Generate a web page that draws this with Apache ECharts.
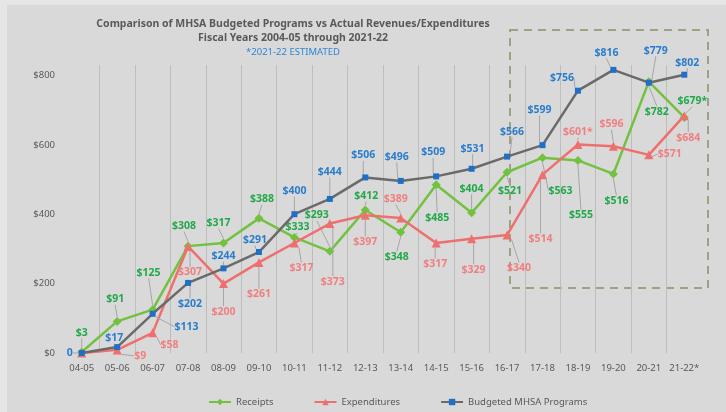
<!DOCTYPE html>
<html>
<head>
<meta charset="utf-8">
<script src="https://cdn.jsdelivr.net/npm/echarts@6/dist/echarts.min.js"></script>
<style>
  html, body { margin: 0; padding: 0; background: #e6e6e6; }
  #chart { width: 726px; height: 412px; }
</style>
</head>
<body>
<div id="chart"></div>
<script>
// Fiscal years on the category axis
const fiscalYears = ['04-05','05-06','06-07','07-08','08-09','09-10','10-11','11-12','12-13',
  '13-14','14-15','15-16','16-17','17-18','18-19','19-20','20-21','21-22*'];

// Values in millions of dollars
const receipts = [3, 91, 125, 308, 317, 388, 333, 293, 412, 348, 485, 404, 521, 563, 555, 516, 782, 679];
const expenditures = [0, 9, 58, 307, 200, 261, 317, 373, 397, 389, 317, 329, 340, 514, 601, 596, 571, 684];
const budgeted = [0, 17, 113, 202, 244, 291, 400, 444, 506, 496, 509, 531, 566, 599, 756, 816, 779, 802];

// Value-axis tick labels
const yTicks = [0, 200, 400, 600, 800];

// Footnote marks appended to individual callouts
const receiptNotes = ['', '', '', '', '', '', '', '', '', '', '', '', '', '', '', '', '', '*'];
const expenditureNotes = ['', '', '', '', '', '', '', '', '', '', '', '', '', '', '*', '', '', ''];

// Callout offsets (px) from each point, so crowded labels don't collide
const receiptShift = [[0,-19],[-2,-22],[-4,-37],[-4,-20],[-5,-20],[3,-19],[3,-10],[-13,-36],[1,-14],
  [-4,25],[1,33],[0,-24],[3,19],[18,33],[3,55],[3,27],[8,30],[8,-16]];
const expenditureShift = [[0,0],[23,6],[17,12],[2,26],[0,28],[0,32],[7,25],[3,58],[0,27],
  [-5,-19],[-1,21],[2,31],[12,33],[-2,64],[0,-12],[-2,-22],[21,-1],[4,22]];
const budgetShift = [[-12,0],[-3,-9],[34,13],[2,21],[0,-12],[-4,-12],[0,-23],[0,-27],[-2,-22],
  [-4,-24],[-3,-24],[1,-20],[5,-25],[-3,-35],[-16,-13],[-7,-17],[7,-32],[3,-12]];

const FONT = '"Noto Sans", "Open Sans", sans-serif';

function callout(color) {
  return {
    show: true,
    position: 'inside',
    color: color,
    fontFamily: FONT,
    fontSize: 10.5,
    fontWeight: 'bold'
  };
}
function shiftBy(table) {
  return function (params) {
    const s = table[params.dataIndex] || [0, 0];
    return { dx: s[0], dy: s[1] };
  };
}
const guide = { show: true, lineStyle: { color: '#a6a6a6', width: 1 } };

const chart = echarts.init(document.getElementById('chart'), null, { renderer: 'canvas' });

chart.setOption({
  backgroundColor: '#e6e6e6',
  animation: false,
  textStyle: { fontFamily: FONT },
  graphic: [
    { type: 'rect', z: -10, shape: { x: 7, y: 5, width: 719, height: 407 },
      style: { fill: '#d9d9d9' } },
    // dashed frame around the recent fiscal years
    { type: 'rect', z: 0, shape: { x: 510, y: 30, width: 198, height: 258 },
      style: { fill: 'none', stroke: '#9ea283', lineWidth: 2, lineDash: [8, 6] } }
  ],
  title: {
    left: 293,
    top: 17,
    padding: 0,
    textAlign: 'center',
    text: 'Comparison of MHSA Budgeted Programs vs Actual Revenues/Expenditures\nFiscal Years 2004-05 through 2021-22',
    subtext: '*2021-22 ESTIMATED',
    itemGap: 1,
    textStyle: { fontFamily: FONT, fontSize: 10.5, fontWeight: 'bold', color: '#595959', lineHeight: 14 },
    subtextStyle: { fontFamily: FONT, fontSize: 9.5, color: '#2e86d6', lineHeight: 12 }
  },
  legend: {
    left: 203,
    top: 392,
    itemGap: 40,
    itemWidth: 22,
    itemHeight: 8,
    textStyle: { fontFamily: FONT, fontSize: 9.5, color: '#595959' },
    data: ['Receipts', 'Expenditures', 'Budgeted MHSA Programs']
  },
  grid: { left: 64, right: 24, top: 65, bottom: 59, containLabel: false },
  xAxis: {
    type: 'category',
    data: fiscalYears,
    boundaryGap: true,
    axisLine: { show: false },
    axisTick: { show: false },
    axisLabel: { color: '#595959', fontSize: 9.5, margin: 10, fontFamily: FONT, interval: 0 },
    splitLine: { show: true, interval: 0, showMinLine: false, showMaxLine: false,
      lineStyle: { color: '#bdbdbd', width: 1 } }
  },
  yAxis: {
    type: 'value',
    min: yTicks[0],
    max: 830,
    interval: 200,
    axisLine: { show: false },
    axisTick: { show: false },
    splitLine: { show: false },
    axisLabel: {
      color: '#595959', fontSize: 9.5, margin: 9, fontFamily: FONT,
      showMaxLabel: false,
      formatter: function (v) { return yTicks.indexOf(v) >= 0 ? '$' + v : ''; }
    }
  },
  series: [
    {
      name: 'Receipts',
      type: 'line',
      data: receipts,
      symbol: 'diamond',
      symbolSize: 9,
      lineStyle: { color: '#72c23f', width: 2.5 },
      itemStyle: { color: '#72c23f' },
      label: Object.assign(callout('#22a84a'), {
        formatter: p => '$' + p.value + receiptNotes[p.dataIndex]
      }),
      labelLine: guide,
      labelLayout: shiftBy(receiptShift),
      z: 3
    },
    {
      name: 'Expenditures',
      type: 'line',
      data: expenditures,
      symbol: 'triangle',
      symbolSize: 9,
      lineStyle: { color: '#ef6f6f', width: 2.5 },
      itemStyle: { color: '#ef6f6f' },
      label: Object.assign(callout('#f07f7f'), {
        formatter: p => p.dataIndex === 0 ? '' : '$' + p.value + expenditureNotes[p.dataIndex]
      }),
      labelLine: guide,
      labelLayout: shiftBy(expenditureShift),
      z: 4
    },
    {
      name: 'Budgeted MHSA Programs',
      type: 'line',
      data: budgeted,
      symbol: 'rect',
      symbolSize: 6,
      lineStyle: { color: '#6a6a6a', width: 2.5 },
      itemStyle: { color: '#1f6fc4' },
      label: Object.assign(callout('#2a7dcc'), {
        formatter: p => p.value === 0 ? '0' : '$' + p.value
      }),
      labelLine: guide,
      labelLayout: shiftBy(budgetShift),
      z: 5
    }
  ]
});
</script>
</body>
</html>
